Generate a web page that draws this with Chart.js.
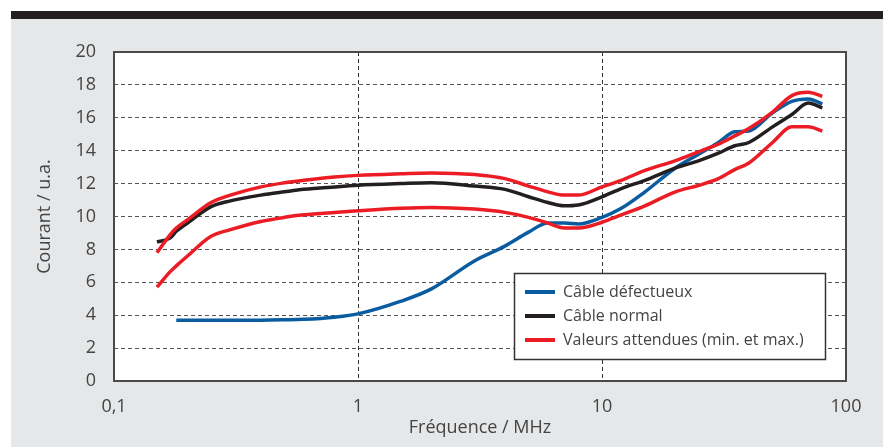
<!DOCTYPE html>
<html>
<head>
<meta charset="utf-8">
<script src="https://cdn.jsdelivr.net/npm/chart.js@4.4.1/dist/chart.umd.min.js"></script>
<style>
  body { margin: 0; background: #fff; }
  #bg { position: absolute; left: 11px; top: 11px; width: 872px; height: 436px;
        box-sizing: border-box; background: #e6e7e8; border-top: 8px solid #231f20; }
  #wrap { position: absolute; left: 0; top: 0; width: 883px; height: 447px; }
</style>
</head>
<body>
<div id="bg"></div>
<div id="wrap"><canvas id="chart" width="883" height="447"></canvas></div>
<script>
// frequencies (MHz) and current values (u.a.)
const freq = [0.15, 0.17, 0.18, 0.2, 0.25, 0.3, 0.4, 0.5, 0.6, 0.8, 1, 1.5, 2, 3, 4, 5, 6, 7, 8,
  10, 12, 15, 20, 25, 30, 35, 40, 50, 60, 70, 80];
const defectueux = [null, null, 3.7, 3.7, 3.7, 3.7, 3.7, 3.72, 3.75, 3.88, 4.08, 4.85, 5.6, 7.3, 8.2, 9.05, 9.6, 9.6, 9.55,
  9.95, 10.5, 11.5, 12.95, 13.8, 14.5, 15.15, 15.2, 16.3, 17.0, 17.15, 16.85];
const normal = [8.45, 8.7, 9.1, 9.6, 10.6, 10.95, 11.3, 11.5, 11.65, 11.8, 11.9, 12.0, 12.05, 11.85, 11.65, 11.2, 10.85, 10.65, 10.7,
  11.2, 11.7, 12.2, 12.95, 13.4, 13.85, 14.3, 14.5, 15.45, 16.2, 16.9, 16.6];
const valMax = [7.8, 8.9, 9.3, 9.8, 10.85, 11.3, 11.8, 12.05, 12.2, 12.4, 12.5, 12.6, 12.65, 12.55, 12.3, 11.85, 11.5, 11.3, 11.3,
  11.8, 12.2, 12.8, 13.4, 13.95, 14.4, 14.9, 15.35, 16.35, 17.35, 17.55, 17.3];
const valMin = [5.7, 6.65, 7.0, 7.6, 8.8, 9.2, 9.7, 9.95, 10.1, 10.25, 10.35, 10.5, 10.55, 10.45, 10.25, 9.95, 9.6, 9.3, 9.3,
  9.65, 10.1, 10.65, 11.5, 11.9, 12.3, 12.85, 13.25, 14.5, 15.45, 15.45, 15.2];
const xTicks = [0.1, 1, 10, 100];
const legendLabels = ['Câble défectueux', 'Câble normal', 'Valeurs attendues (min. et max.)'];

const BLUE = '#0a5ca0', BLACK = '#231f20', RED = '#ec1c24';
const FONT = '"Open Sans", "DejaVu Sans", sans-serif';
const TXT = '#444';

function pts(vals) {
  return freq.map((f, i) => ({ x: f, y: vals[i] })).filter(p => p.y !== null);
}

function line(label, vals, color, order) {
  return {
    label, data: pts(vals), borderColor: color, backgroundColor: color,
    borderWidth: 3.5, pointRadius: 0, cubicInterpolationMode: 'monotone', order
  };
}

const plotFrame = {
  id: 'plotFrame',
  beforeDraw(chart) {
    const a = chart.chartArea, ctx = chart.ctx;
    ctx.save();
    ctx.fillStyle = '#fff';
    ctx.fillRect(a.left, a.top, a.right - a.left, a.bottom - a.top);
    ctx.restore();
  },
  afterDraw(chart) {
    const a = chart.chartArea, ctx = chart.ctx;
    ctx.save();
    ctx.strokeStyle = '#4a4a4a';
    ctx.lineWidth = 2;
    ctx.strokeRect(a.left, a.top, a.right - a.left, a.bottom - a.top);

    // legend box
    ctx.fillStyle = '#fff';
    ctx.fillRect(514, 273, 312, 87);
    ctx.strokeStyle = '#333';
    ctx.lineWidth = 1.5;
    ctx.strokeRect(514.5, 273.5, 311, 86);
    const cols = [BLUE, BLACK, RED];
    const rows = [292, 316, 340];
    ctx.font = '16px ' + FONT;
    ctx.textBaseline = 'middle';
    legendLabels.forEach((t, i) => {
      ctx.strokeStyle = cols[i];
      ctx.lineWidth = 4;
      ctx.beginPath();
      ctx.moveTo(525, rows[i]);
      ctx.lineTo(555, rows[i]);
      ctx.stroke();
      ctx.fillStyle = TXT;
      ctx.fillText(t, 563, rows[i]);
    });
    ctx.restore();
  }
};

new Chart(document.getElementById('chart'), {
  type: 'line',
  data: {
    datasets: [
      line('Valeurs attendues (max.)', valMax, RED, 1),
      line('Valeurs attendues (min.)', valMin, RED, 1),
      line('Câble normal', normal, BLACK, 2),
      line('Câble défectueux', defectueux, BLUE, 3)
    ]
  },
  options: {
    responsive: false,
    devicePixelRatio: 1,
    animation: false,
    layout: { padding: { top: 52, right: 37, bottom: 0, left: 0 } },
    plugins: { legend: { display: false }, tooltip: { enabled: false } },
    scales: {
      x: {
        type: 'logarithmic', min: 0.1, max: 100,
        afterBuildTicks(scale) { scale.ticks = xTicks.map(v => ({ value: v })); },
        afterFit(scale) { scale.height = 66; },
        ticks: {
          padding: 15, color: TXT, font: { family: FONT, size: 18 },
          autoSkip: false, maxRotation: 0,
          callback: v => v === 0.1 ? '0,1' : String(v)
        },
        grid: {
          drawTicks: false, lineWidth: 1,
          color: c => (c.tick && (c.tick.value === 1 || c.tick.value === 10)) ? '#333' : 'rgba(0,0,0,0)'
        },
        border: { display: false, dash: [4, 3] },
        title: {
          display: true, text: 'Fréquence / MHz', color: TXT,
          font: { family: FONT, size: 18 }, padding: { top: 0, bottom: 8 }
        }
      },
      y: {
        min: 0, max: 20,
        afterFit(scale) { scale.width = 114; },
        ticks: { stepSize: 2, padding: 18, color: TXT, font: { family: FONT, size: 18 } },
        grid: {
          drawTicks: false, lineWidth: 1,
          color: c => (c.tick && c.tick.value > 0 && c.tick.value < 20) ? '#555' : 'rgba(0,0,0,0)'
        },
        border: { display: false, dash: [4, 3] },
        title: {
          display: true, text: 'Courant / u.a.', color: TXT,
          font: { family: FONT, size: 18 }, padding: { top: 34, bottom: 0 }
        }
      }
    }
  },
  plugins: [plotFrame]
});
</script>
</body>
</html>
